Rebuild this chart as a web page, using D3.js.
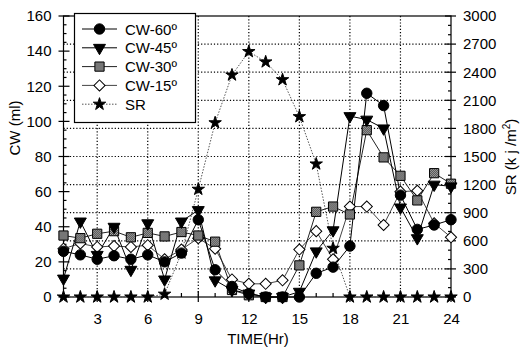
<!DOCTYPE html>
<html>
<head>
<meta charset="utf-8">
<script src="https://cdn.jsdelivr.net/npm/d3@7"></script>
<style>
  body { margin: 0; background: #fff; }
  svg text { font-family: "Liberation Sans", Arial, sans-serif; fill: #000; }
</style>
</head>
<body>
<svg id="chart" width="525" height="349"></svg>
<script>
// hours 1..24
const hours = d3.range(1, 25);
const cw60 = [26, 24, 21.5, 23.5, 21.5, 24, 20, 25, 44, 15.5, 6, 2, 0, 0, 0, 13.5, 17, 29, 116, 109, 58, 38.5, 41, 44];
const cw45 = [10.5, 43, 24, 40, 15.5, 42, 10, 43, 49.5, 9.5, 4, 2, 0, 0, 3, 26, 38, 103, 101, 96, 51, 33.5, 64, 63];
const cw30 = [35, 33.5, 36, 37.5, 34, 36.5, 34.5, 37, 35, 31.5, 4, 1, 0, 0, 18, 48.5, 51.5, 47, 95, 79.5, 69, 55, 70.5, 64.5];
const cw15 = [27.5, 30.5, 28.5, 29, 28.5, 29.5, 21.5, 27, 33.5, 27.5, 10, 7.5, 7.5, 9.5, 27, 37.5, 21.5, 51.5, 51.5, 41, 60, 60.5, 42, 34];
const sr = [0, 0, 0, 0, 0, 0, 30, 470, 1150, 1860, 2370, 2620, 2510, 2320, 1925, 1420, 520, 0, 0, 0, 0, 0, 0, 0];

const xTicks = [3, 6, 9, 12, 15, 18, 21, 24];
const cwTicks = [0, 20, 40, 60, 80, 100, 120, 140, 160];
const srTicks = [0, 300, 600, 900, 1200, 1500, 1800, 2100, 2400, 2700, 3000];

const svg = d3.select("#chart");
const pl = 63.5, pr = 451, pt = 16, pb = 297;

const x = d3.scaleLinear().domain([1, 24]).range([pl, pr]);
const yL = d3.scaleLinear().domain([0, 160]).range([pb, pt]);
const yR = d3.scaleLinear().domain([0, 3000]).range([pb, pt]);

// hatched fill for CW-30 squares
const defs = svg.append("defs");
const pat = defs.append("pattern").attr("id", "hatch")
  .attr("width", 2).attr("height", 2).attr("patternUnits", "userSpaceOnUse");
pat.append("rect").attr("width", 2).attr("height", 2).attr("fill", "#bbb");
pat.append("rect").attr("width", 1).attr("height", 1).attr("fill", "#333");
pat.append("rect").attr("x", 1).attr("y", 1).attr("width", 1).attr("height", 1).attr("fill", "#333");

// dotted grid
const grid = svg.append("g").attr("stroke", "#000").attr("stroke-width", 1.2).attr("stroke-dasharray", "1.2,2");
grid.selectAll("line.v").data(xTicks.filter(d => d < 24)).join("line")
  .attr("x1", d => x(d)).attr("x2", d => x(d)).attr("y1", pt).attr("y2", pb);
grid.selectAll("line.h").data(srTicks.filter(d => d > 0 && d < 3000)).join("line")
  .attr("x1", pl).attr("x2", pr).attr("y1", d => yR(d)).attr("y2", d => yR(d));

// axes
const axisX = d3.axisBottom(x).tickValues(xTicks).tickSize(0).tickPadding(16).tickFormat(d3.format("d"));
const axisL = d3.axisLeft(yL).tickValues(cwTicks).tickSize(0).tickPadding(12).tickFormat(d3.format("d"));
const axisR = d3.axisRight(yR).tickValues(srTicks).tickSize(0).tickPadding(12).tickFormat(d3.format("d"));

svg.append("g").attr("transform", `translate(0,${pb})`).call(axisX)
  .call(g => g.select(".domain").remove());
svg.append("g").attr("transform", `translate(${pl},0)`).call(axisL)
  .call(g => g.select(".domain").remove());
svg.append("g").attr("transform", `translate(${pr},0)`).call(axisR)
  .call(g => g.select(".domain").remove());
svg.selectAll(".tick text").attr("font-size", 15).attr("font-family", "Liberation Sans, Arial, sans-serif");

// frame
svg.append("rect").attr("x", pl).attr("y", pt).attr("width", pr - pl).attr("height", pb - pt)
  .attr("fill", "none").attr("stroke", "#000").attr("stroke-width", 1.2);

// tick marks (cross ticks at majors, inner minor ticks)
const tk = svg.append("g").attr("stroke", "#000").attr("stroke-width", 1.2);
tk.selectAll("line.xm").data(d3.range(1, 25)).join("line")
  .attr("x1", d => x(d)).attr("x2", d => x(d))
  .attr("y1", d => d % 3 === 0 ? pb + 5 : pb)
  .attr("y2", d => d % 3 === 0 ? pb - 6 : pb - 4);
tk.selectAll("line.lm").data(d3.range(0, 161, 5)).join("line")
  .attr("y1", d => yL(d)).attr("y2", d => yL(d))
  .attr("x1", d => d % 20 === 0 ? pl - 5 : pl)
  .attr("x2", d => d % 20 === 0 ? pl + 6 : pl + 3);
tk.selectAll("line.rm").data(d3.range(0, 3001, 100)).join("line")
  .attr("y1", d => yR(d)).attr("y2", d => yR(d))
  .attr("x1", d => d % 300 === 0 ? pr + 5 : pr)
  .attr("x2", d => d % 300 === 0 ? pr - 6 : pr - 3);

// axis titles
svg.append("text").attr("x", 258).attr("y", 344).attr("text-anchor", "middle")
  .attr("font-size", 15).text("TIME(Hr)");
svg.append("text").attr("transform", "translate(20,128) rotate(-90)").attr("text-anchor", "middle")
  .attr("font-size", 15).text("CW (ml)");
const srT = svg.append("text").attr("transform", "translate(516,157) rotate(-90)").attr("text-anchor", "middle")
  .attr("font-size", 15);
srT.append("tspan").text("SR (k j /m");
srT.append("tspan").attr("font-size", 10).attr("dy", -6).text("2");
srT.append("tspan").attr("dy", 6).text(")");

// series
const series = [
  {name: "CW-60º", vals: cw60, y: yL, stroke: "#000", dash: null, sym: d3.symbolCircle, size: 85, fill: "#000", rot: 0},
  {name: "CW-45º", vals: cw45, y: yL, stroke: "#000", dash: null, sym: d3.symbolTriangle, size: 62, fill: "#000", rot: 180},
  {name: "CW-30º", vals: cw30, y: yL, stroke: "#222", dash: null, sym: d3.symbolSquare, size: 85, fill: "url(#hatch)", rot: 0},
  {name: "CW-15º", vals: cw15, y: yL, stroke: "#444", dash: null, sym: d3.symbolSquare, size: 62, fill: "#fff", rot: 45},
  {name: "SR", vals: sr, y: yR, stroke: "#555", dash: "1.5,1.5", sym: d3.symbolStar, size: 48, fill: "#000", rot: 0}
];

const drawOrder = [4, 3, 2, 1, 0];
drawOrder.forEach(i => {
  const s = series[i];
  const line = d3.line().x((d, j) => x(hours[j])).y(d => s.y(d));
  svg.append("path").datum(s.vals).attr("d", line)
    .attr("fill", "none").attr("stroke", s.stroke).attr("stroke-width", 1)
    .attr("stroke-dasharray", s.dash);
});
drawOrder.forEach(i => {
  const s = series[i];
  svg.append("g").selectAll("path").data(s.vals).join("path")
    .attr("d", d3.symbol(s.sym, s.size))
    .attr("transform", (d, j) => `translate(${x(hours[j])},${s.y(d)}) rotate(${s.rot})`)
    .attr("fill", s.fill).attr("stroke", "#000").attr("stroke-width", 1);
});

// legend
const lg = svg.append("g");
lg.append("rect").attr("x", 74.5).attr("y", 13.5).attr("width", 121).attr("height", 109)
  .attr("fill", "#fff").attr("stroke", "#000").attr("stroke-width", 1.2);
series.forEach((s, i) => {
  const yy = 29 + i * 18.8;
  lg.append("line").attr("x1", 82).attr("x2", 117).attr("y1", yy).attr("y2", yy)
    .attr("stroke", s.stroke).attr("stroke-width", 1).attr("stroke-dasharray", s.dash);
  lg.append("path").attr("d", d3.symbol(s.sym, s.size))
    .attr("transform", `translate(99.5,${yy}) rotate(${s.rot})`)
    .attr("fill", s.fill).attr("stroke", "#000").attr("stroke-width", 1);
  lg.append("text").attr("x", 125).attr("y", yy + 5.5).attr("font-size", 15).text(s.name);
});
</script>
</body>
</html>
